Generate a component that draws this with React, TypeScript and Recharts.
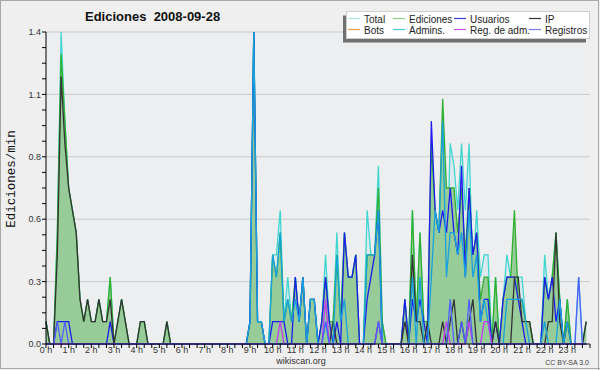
import React from "react";
import { ComposedChart, Area, Line, XAxis, YAxis, CartesianGrid } from "recharts";

// ── edits per minute, one value per 10-minute bin (144 bins = 24 h) ──
const total = [
  0.1, 0, 0, 0.5, 1.4, 1.0, 0.7, 0.6, 0.5, 0.2, 0.1, 0.2,
  0.1, 0.1, 0.2, 0.1, 0.1, 0.3, 0, 0.1, 0.2, 0.1, 0, 0,
  0, 0.1, 0.1, 0, 0, 0, 0, 0, 0.1, 0, 0, 0,
  0, 0, 0, 0, 0, 0, 0, 0, 0, 0, 0, 0,
  0, 0, 0, 0, 0, 0, 0.1, 1.4, 0.1, 0.1, 0, 0,
  0.4, 0.4, 0.6, 0.1, 0.3, 0.1, 0.3, 0.1, 0.3, 0, 0.2, 0.2,
  0, 0.1, 0.4, 0.1, 0.1, 0.5, 0.1, 0.5, 0.3, 0.3, 0.4, 0,
  0, 0.6, 0.4, 0.4, 0.8, 0.1, 0, 0, 0, 0, 0, 0.2,
  0, 0.6, 0.1, 0.5, 0.1, 0.1, 0.4, 0.5, 0.4, 0.4, 0.3, 0.9,
  0.8, 0.6, 0.9, 0.6, 0.9, 0.3, 0.6, 0.3, 0.4, 0.4, 0, 0.3,
  0, 0.2, 0.4, 0.3, 0.3, 0.3, 0.3, 0.1, 0.1, 0, 0, 0,
  0.4, 0.2, 0.3, 0.5, 0.2, 0, 0.2, 0, 0, 0.3, 0, 0.1,
];
const ediciones = [
  0.1, 0, 0, 0.5, 1.3, 1.0, 0.7, 0.6, 0.5, 0.2, 0.1, 0.2,
  0.1, 0.1, 0.2, 0.1, 0.1, 0.3, 0, 0.1, 0.2, 0.1, 0, 0,
  0, 0.1, 0.1, 0, 0, 0, 0, 0, 0.1, 0, 0, 0,
  0, 0, 0, 0, 0, 0, 0, 0, 0, 0, 0, 0,
  0, 0, 0, 0, 0, 0, 0.1, 1.4, 0.1, 0.1, 0, 0,
  0.4, 0.3, 0.5, 0.1, 0.2, 0.1, 0.3, 0.1, 0.3, 0, 0.2, 0.2,
  0, 0.1, 0.3, 0.1, 0.1, 0.4, 0.1, 0.5, 0.3, 0.3, 0.4, 0,
  0, 0.4, 0.4, 0.4, 0.7, 0.1, 0, 0, 0, 0, 0, 0.2,
  0, 0.6, 0.1, 0.5, 0.1, 0.1, 0.9, 0.6, 0.5, 1.1, 0.7, 0.7,
  0.7, 0.5, 0.7, 0.4, 0.7, 0.4, 0.5, 0.2, 0.3, 0.3, 0, 0.3,
  0, 0.2, 0.3, 0.3, 0.6, 0.2, 0.2, 0.1, 0.1, 0, 0, 0,
  0.3, 0.2, 0.3, 0.5, 0.2, 0, 0.2, 0, 0, 0, 0, 0.1,
];
const usuarios = [
  0, 0, 0, 0.1, 0.1, 0.1, 0.1, 0, 0, 0, 0, 0,
  0, 0, 0, 0, 0, 0.1, 0, 0, 0, 0, 0, 0,
  0, 0, 0, 0, 0, 0, 0, 0, 0, 0, 0, 0,
  0, 0, 0, 0, 0, 0, 0, 0, 0, 0, 0, 0,
  0, 0, 0, 0, 0, 0, 0.1, 1.4, 0.1, 0.1, 0, 0,
  0.1, 0.1, 0.1, 0.1, 0, 0, 0.3, 0.1, 0.3, 0, 0.2, 0.2,
  0, 0.1, 0.3, 0.1, 0, 0.1, 0, 0.5, 0.3, 0.3, 0.4, 0,
  0, 0.2, 0.3, 0.4, 0.6, 0, 0, 0, 0, 0, 0, 0.2,
  0, 0.2, 0.1, 0.2, 0.1, 0, 1.0, 0.6, 0.5, 0.6, 0.5, 0.7,
  0.5, 0.4, 0.8, 0.3, 0.7, 0.4, 0.5, 0.1, 0.2, 0.2, 0, 0.1,
  0, 0.2, 0.3, 0.3, 0.3, 0.2, 0.1, 0, 0, 0, 0, 0,
  0.3, 0.2, 0.3, 0.1, 0.2, 0, 0, 0, 0, 0, 0, 0,
];
const ip = [
  0.1, 0, 0, 0.4, 1.2, 0.9, 0.7, 0.6, 0.5, 0.2, 0.1, 0.2,
  0.1, 0.1, 0.2, 0.1, 0.1, 0.2, 0, 0.1, 0.2, 0.1, 0, 0,
  0, 0.1, 0.1, 0, 0, 0, 0, 0, 0.1, 0, 0, 0,
  0, 0, 0, 0, 0, 0, 0, 0, 0, 0, 0, 0,
  0, 0, 0, 0, 0, 0, 0, 0, 0, 0, 0, 0,
  0, 0, 0, 0, 0, 0, 0, 0, 0, 0, 0, 0,
  0, 0, 0, 0, 0.1, 0, 0, 0, 0, 0, 0, 0,
  0, 0, 0, 0, 0.1, 0, 0, 0, 0, 0, 0, 0.1,
  0, 0.4, 0.1, 0.1, 0, 0.1, 0, 0, 0, 0.1, 0, 0.1,
  0.2, 0, 0.1, 0, 0.1, 0.2, 0, 0, 0, 0, 0, 0.1,
  0, 0, 0, 0, 0.3, 0.3, 0.1, 0.1, 0.1, 0, 0, 0,
  0, 0.1, 0.1, 0.5, 0.1, 0, 0.1, 0, 0, 0, 0, 0.1,
];
const admins = [
  0, 0, 0, 0, 0, 0, 0, 0, 0, 0, 0, 0,
  0, 0, 0, 0, 0, 0, 0, 0, 0, 0, 0, 0,
  0, 0, 0, 0, 0, 0, 0, 0, 0, 0, 0, 0,
  0, 0, 0, 0, 0, 0, 0, 0, 0, 0, 0, 0,
  0, 0, 0, 0, 0, 0, 0.1, 1.4, 0.1, 0.1, 0, 0,
  0.4, 0.3, 0.5, 0.1, 0.2, 0.1, 0.2, 0.1, 0.3, 0, 0.2, 0.2,
  0, 0, 0.1, 0, 0, 0.4, 0.1, 0.2, 0, 0, 0, 0,
  0, 0.4, 0.4, 0.4, 0.6, 0, 0, 0, 0, 0, 0, 0,
  0, 0.3, 0, 0.3, 0, 0, 0.3, 0.6, 0.5, 1.0, 0.3, 0.5,
  0.5, 0.4, 0.5, 0.3, 0.6, 0.3, 0.4, 0.1, 0.2, 0.1, 0, 0,
  0, 0, 0.2, 0.2, 0.2, 0.2, 0.2, 0.1, 0, 0, 0, 0,
  0.1, 0, 0, 0, 0.2, 0, 0.1, 0, 0, 0, 0, 0,
];
const regAdm = [
  0, 0, 0, 0, 0, 0, 0, 0, 0, 0, 0, 0,
  0, 0, 0, 0, 0, 0, 0, 0, 0, 0, 0, 0,
  0, 0, 0, 0, 0, 0, 0, 0, 0, 0, 0, 0,
  0, 0, 0, 0, 0, 0, 0, 0, 0, 0, 0, 0,
  0, 0, 0, 0, 0, 0, 0, 0, 0, 0, 0, 0,
  0, 0, 0.1, 0, 0, 0, 0, 0, 0, 0, 0, 0,
  0, 0, 0.2, 0, 0, 0, 0, 0, 0, 0, 0, 0,
  0, 0, 0, 0, 0.1, 0, 0, 0, 0, 0, 0, 0,
  0, 0, 0, 0, 0, 0, 0, 0, 0, 0, 0.1, 0,
  0, 0, 0, 0, 0.1, 0, 0, 0, 0.1, 0.1, 0, 0,
  0, 0, 0, 0, 0, 0, 0, 0, 0, 0, 0, 0,
  0, 0, 0, 0, 0, 0, 0, 0, 0, 0, 0, 0,
];
const registros = [
  0, 0, 0, 0.1, 0, 0.1, 0, 0, 0, 0, 0, 0,
  0, 0, 0, 0, 0, 0, 0, 0, 0, 0, 0, 0,
  0, 0, 0, 0, 0, 0, 0, 0, 0, 0, 0, 0,
  0, 0, 0, 0, 0, 0, 0, 0, 0, 0, 0, 0,
  0, 0, 0, 0, 0, 0, 0, 0, 0, 0, 0, 0,
  0, 0, 0, 0, 0, 0, 0, 0, 0, 0, 0, 0,
  0, 0, 0.1, 0, 0, 0, 0, 0, 0, 0, 0, 0,
  0, 0, 0, 0, 0.1, 0, 0, 0, 0, 0, 0, 0,
  0, 0, 0, 0, 0, 0, 0, 0, 0, 0, 0, 0.2,
  0, 0, 0.1, 0, 0.2, 0, 0, 0, 0, 0, 0, 0,
  0, 0, 0, 0, 0, 0, 0, 0, 0, 0, 0, 0,
  0, 0, 0, 0, 0, 0, 0, 0, 0, 0.3, 0, 0,
];

const hourLabels = [
  "0 h", "1 h", "2 h", "3 h", "4 h", "5 h", "6 h", "7 h", "8 h", "9 h", "10 h", "11 h",
  "12 h", "13 h", "14 h", "15 h", "16 h", "17 h", "18 h", "19 h", "20 h", "21 h", "22 h", "23 h",
];
const yTicks = [
  0, 0.07, 0.14, 0.21, 0.28, 0.35, 0.42, 0.49, 0.56, 0.63, 0.7,
  0.77, 0.84, 0.91, 0.98, 1.05, 1.12, 1.19, 1.26, 1.33, 1.4,
];
const yTickLabels = [
  "0.0", "", "", "", "0.3", "", "", "", "0.6", "", "",
  "", "0.8", "", "", "", "1.1", "", "", "", "1.4",
];
const yGrid = [0.28, 0.56, 0.84, 1.12, 1.4];

const legendItems = [
  { name: "Total", color: "#a9e3e3" },
  { name: "Ediciones", color: "#86d386" },
  { name: "Usuarios", color: "#3a3ae6" },
  { name: "IP", color: "#333333" },
  { name: "Bots", color: "#f0a040" },
  { name: "Admins.", color: "#45c8da" },
  { name: "Reg. de adm.", color: "#d050e6" },
  { name: "Registros", color: "#7a7af0" },
];

const rows = total.map((v, i) => ({
  x: i,
  total: v,
  ediciones: ediciones[i],
  usuarios: usuarios[i],
  ip: ip[i],
  admins: admins[i],
  regAdm: regAdm[i],
  registros: registros[i],
}));

const minorTicks = Array.from({ length: 73 }, (_, k) => k * 2);
const SANS = "'Liberation Sans', Arial, sans-serif";

export default function App() {
  const colX = [348, 393, 454, 529];
  return (
    <div style={{ position: "absolute", left: 0, top: 0, width: 600, height: 370, background: "#efefef" }}>
      <ComposedChart width={600} height={370} data={rows} margin={{ top: 32, right: 10, bottom: 0, left: 0 }}>
        <CartesianGrid vertical={false} horizontalValues={yGrid} stroke="#c9c9c9" fill="#edeef0" />
        <XAxis
          dataKey="x" type="number" domain={[0, 144]} ticks={minorTicks} interval={0} height={26}
          tickFormatter={(v: number) => (v % 6 === 0 && v < 144 ? hourLabels[v / 6] : "")}
          tick={{ fontSize: 9, fill: "#333", fontFamily: SANS }} tickSize={4} tickMargin={-1}
          axisLine={{ stroke: "#000" }} tickLine={{ stroke: "#000" }}
        />
        <YAxis
          type="number" domain={[0, 1.4]} ticks={yTicks} interval={0} width={46}
          tickFormatter={(_v: number, i: number) => yTickLabels[i]}
          tick={{ fontSize: 9, fill: "#333", fontFamily: SANS }} tickSize={4} tickMargin={1}
          axisLine={{ stroke: "#000" }} tickLine={{ stroke: "#000" }}
        />
        <Area type="linear" dataKey="total" stroke="#40d6d0" strokeWidth={1.3} fill="#c4dcef" fillOpacity={0.35} isAnimationActive={false} dot={false} />
        <Area type="linear" dataKey="ediciones" stroke="#2fb02f" strokeWidth={1.3} fill="#97cb97" fillOpacity={1} isAnimationActive={false} dot={false} />
        <Line type="linear" dataKey="usuarios" stroke="#1c1cf0" strokeWidth={1.3} dot={false} isAnimationActive={false} />
        <Line type="linear" dataKey="ip" stroke="#333" strokeWidth={1.3} dot={false} isAnimationActive={false} />
        <Line type="linear" dataKey="admins" stroke="#17a2de" strokeWidth={1.3} dot={false} isAnimationActive={false} />
        <Line type="linear" dataKey="regAdm" stroke="#c03cf0" strokeWidth={1.3} dot={false} isAnimationActive={false} />
        <Line type="linear" dataKey="registros" stroke="#4f5fff" strokeWidth={1.3} dot={false} isAnimationActive={false} />
      </ComposedChart>

      <svg width={600} height={370} style={{ position: "absolute", left: 0, top: 0, pointerEvents: "none" }}>
        <rect x={0.5} y={0.5} width={598} height={368} fill="none" stroke="#a8a8a8" strokeWidth={1} />
        <line x1={598.5} y1={0} x2={598.5} y2={370} stroke="#a8a8a8" />
        <line x1={0} y1={368.5} x2={600} y2={368.5} stroke="#a8a8a8" />
        <text x={85} y={21} fontFamily={SANS} fontSize={13} fontWeight="bold" fill="#111" style={{ whiteSpace: "pre" }} xmlSpace="preserve">
          Ediciones  2008-09-28
        </text>
        <text x={15} y={179} transform="rotate(-90 15 179)" textAnchor="middle" fontFamily="'Liberation Mono', 'DejaVu Sans Mono', monospace" fontSize={12.5} fill="#111">
          Ediciones/min
        </text>
        <text x={301} y={364} textAnchor="middle" fontFamily={SANS} fontSize={9} fill="#333">wikiscan.org</text>
        <text x={589} y={365} textAnchor="end" fontFamily={SANS} fontSize={7} fill="#444">CC BY-SA 3.0</text>

        <rect x={343} y={15.5} width={243} height={27} fill="#707070" />
        <rect x={346.5} y={11.5} width={243} height={27} fill="#fff" stroke="#cfcfcf" />
        {legendItems.map((it, k) => {
          const col = k % 4;
          const row = Math.floor(k / 4);
          const lx = colX[col];
          const ly = row === 0 ? 18.5 : 29.5;
          return (
            <g key={it.name}>
              <line x1={lx} y1={ly} x2={lx + 12} y2={ly} stroke={it.color} strokeWidth={1.2} />
              <text x={lx + 16} y={ly + 4} fontFamily={SANS} fontSize={10} fill="#222">{it.name}</text>
            </g>
          );
        })}
      </svg>
    </div>
  );
}
